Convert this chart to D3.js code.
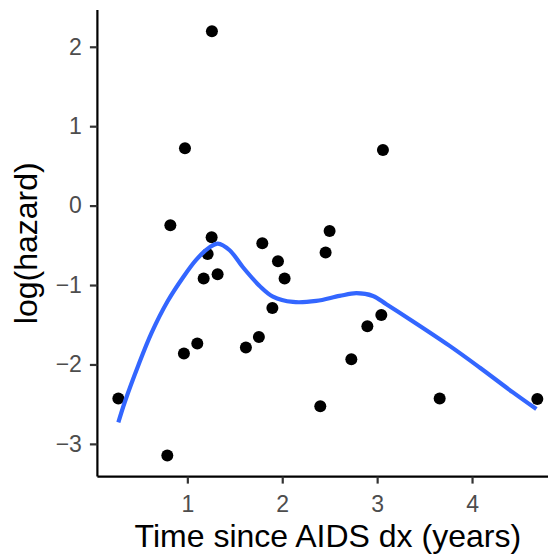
<!DOCTYPE html>
<html>
<head>
<meta charset="utf-8">
<script src="https://cdn.jsdelivr.net/npm/d3@7"></script>
<style>
  html, body { margin: 0; padding: 0; background: #fff; }
  svg { display: block; font-family: "Liberation Sans", Arial, sans-serif; }
</style>
</head>
<body>
<svg id="chart" width="548" height="554"></svg>
<script>
// Observed points: time since AIDS dx (years) and log(hazard)
const pointX = [0.273, 0.789, 0.821, 0.975, 0.964, 1.105, 1.172, 1.214, 1.259, 1.256,
                1.319, 1.617, 1.754, 1.790, 1.896, 1.955, 2.025, 2.401, 2.457, 2.499,
                2.728, 2.897, 3.044, 3.061, 3.659, 4.688];
const pointY = [-2.428, -3.145, -0.248, 0.721, -1.862, -1.736, -0.918, -0.609, 2.196, -0.399,
                -0.864, -1.786, -1.653, -0.474, -1.288, -0.701, -0.918, -2.525, -0.591, -0.319,
                -1.933, -1.518, -1.376, 0.699, -2.428, -2.436];

// Smoothed (loess) curve
const smoothX = [0.273, 0.342, 0.484, 0.624, 0.792, 0.954, 1.095, 1.235, 1.322, 1.446,
                 1.586, 1.762, 1.902, 2.113, 2.359, 2.604, 2.781, 2.956, 3.097,
                 3.342, 3.764, 4.080, 4.431, 4.678];
const smoothY = [-2.730, -2.470, -2.010, -1.600, -1.205, -0.905, -0.680, -0.525, -0.478, -0.562,
                 -0.776, -1.011, -1.145, -1.213, -1.200, -1.137, -1.103, -1.137, -1.242,
                 -1.430, -1.766, -2.038, -2.352, -2.562];

const xTicks = [1, 2, 3, 4];
const yTicks = [-3, -2, -1, 0, 1, 2];
const xTitle = "Time since AIDS dx (years)";
const yTitle = "log(hazard)";

const svg = d3.select("#chart");
const panel = { left: 97.4, top: 10, bottom: 476.6 };

const xMin = d3.min(pointX), xMax = d3.max(pointX);
const xPad = (xMax - xMin) * 0.05;
const yMin = d3.min(pointY), yMax = d3.max(pointY);
const yPad = (yMax - yMin) * 0.05;

const pxPerX = 94.9;
const xDomain = [xMin - xPad, xMax + xPad];
const x = d3.scaleLinear().domain(xDomain)
  .range([panel.left, panel.left + (xDomain[1] - xDomain[0]) * pxPerX]);
const y = d3.scaleLinear().domain([yMin - yPad, yMax + yPad]).range([panel.bottom, panel.top]);

// Points
svg.append("g").selectAll("circle")
  .data(pointX.map((d, i) => [d, pointY[i]]))
  .join("circle")
  .attr("cx", d => x(d[0]))
  .attr("cy", d => y(d[1]))
  .attr("r", 6)
  .attr("fill", "#000");

// Smooth line
const line = d3.line().curve(d3.curveCatmullRom.alpha(0.5))
  .x(d => x(d[0])).y(d => y(d[1]));
svg.append("path")
  .datum(smoothX.map((d, i) => [d, smoothY[i]]))
  .attr("d", line)
  .attr("fill", "none")
  .attr("stroke", "#3366FF")
  .attr("stroke-width", 4.2);

// Axes
const xAxis = svg.append("g")
  .attr("transform", `translate(0,${panel.bottom})`)
  .call(d3.axisBottom(x).tickValues(xTicks).tickSize(7).tickPadding(12).tickFormat(d3.format("d")));
const yAxis = svg.append("g")
  .attr("transform", `translate(${panel.left},0)`)
  .call(d3.axisLeft(y).tickValues(yTicks).tickSize(7.5).tickPadding(8)
    .tickFormat(d => d < 0 ? "\u2212" + Math.abs(d) : String(d)));

[xAxis, yAxis].forEach(g => {
  g.select(".domain").attr("stroke", "#000").attr("stroke-width", 2.2);
  g.selectAll(".tick line").attr("stroke", "#333").attr("stroke-width", 2.2);
  g.selectAll(".tick text").attr("fill", "#4D4D4D").style("font-size", "23px")
    .style("font-family", "'Liberation Sans', Arial, sans-serif");
});
xAxis.select(".domain").attr("d", `M${panel.left},0H${x.range()[1]}`);
yAxis.select(".domain").attr("d", `M0,${panel.top}V${panel.bottom}`);

// Titles
svg.append("text")
  .attr("x", (x.range()[0] + x.range()[1]) / 2)
  .attr("y", 547)
  .attr("text-anchor", "middle")
  .attr("fill", "#000")
  .style("font-size", "32px")
  .text(xTitle);

svg.append("text")
  .attr("transform", `translate(${37},${(panel.top + panel.bottom) / 2}) rotate(-90)`)
  .attr("text-anchor", "middle")
  .attr("fill", "#000")
  .style("font-size", "32px")
  .text(yTitle);
</script>
</body>
</html>
